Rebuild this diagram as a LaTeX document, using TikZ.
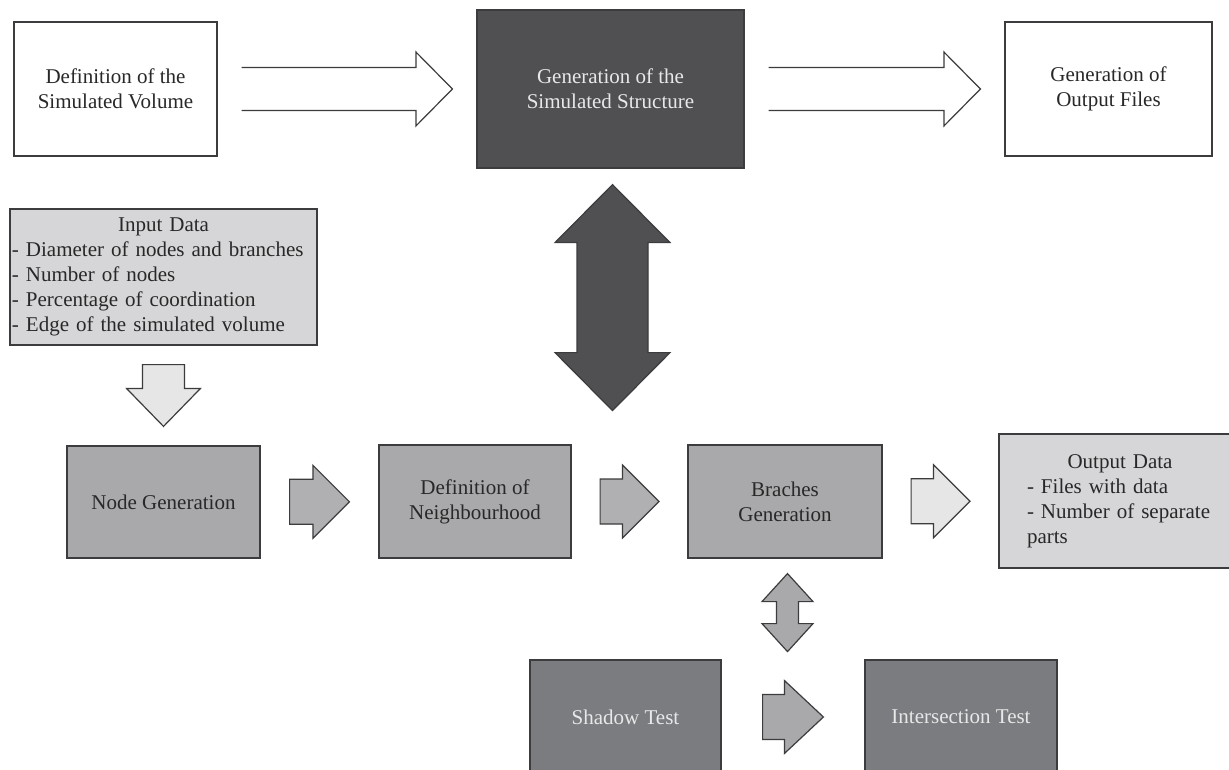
\documentclass[tikz,border=0pt]{standalone}
\usepackage{fontspec}
\setmainfont{Liberation Serif}
\usetikzlibrary{calc}
\definecolor{edgecol}{RGB}{60,60,62}
\definecolor{darkfill}{RGB}{80,80,82}
\definecolor{lightfill}{RGB}{214,214,216}
\definecolor{midfill}{RGB}{169,169,171}
\definecolor{testfill}{RGB}{123,124,128}
\definecolor{arrmid}{RGB}{176,176,178}
\definecolor{arrlight}{RGB}{230,230,231}
\definecolor{darktext}{RGB}{40,40,40}
\definecolor{palettext}{RGB}{232,232,232}

% right-pointing block arrow between two nodes
\newcommand\blockR[7]{%
  \draw[#1] let \p1=(#2.east), \p2=(#3.west), \p3=($(#2.east)!0.5!(#3.west)$) in
    ({\x1+#4pt},{\y3+#5pt}) -- ({\x2-#4pt-#7pt},{\y3+#5pt}) -- ({\x2-#4pt-#7pt},{\y3+#6pt})
    -- ({\x2-#4pt},\y3) -- ({\x2-#4pt-#7pt},{\y3-#6pt}) -- ({\x2-#4pt-#7pt},{\y3-#5pt})
    -- ({\x1+#4pt},{\y3-#5pt}) -- cycle;}
% right-pointing hollow arrow (open tail)
\newcommand\hollowR[7]{%
  \draw[#1] let \p1=(#2.east), \p2=(#3.west), \p3=($(#2.east)!0.5!(#3.west)$) in
    ({\x1+#4pt},{\y3+#5pt}) -- ({\x2-#4pt-#7pt},{\y3+#5pt}) -- ({\x2-#4pt-#7pt},{\y3+#6pt})
    -- ({\x2-#4pt},\y3) -- ({\x2-#4pt-#7pt},{\y3-#6pt}) -- ({\x2-#4pt-#7pt},{\y3-#5pt})
    -- ({\x1+#4pt},{\y3-#5pt});}
% downward block arrow between two nodes
\newcommand\blockD[7]{%
  \draw[#1] let \p1=(#2.south), \p2=(#3.north) in
    ({\x1-#5pt},{\y1-#4pt}) -- ({\x1+#5pt},{\y1-#4pt}) -- ({\x1+#5pt},{\y2+#4pt+#7pt})
    -- ({\x1+#6pt},{\y2+#4pt+#7pt}) -- (\x1,{\y2+#4pt}) -- ({\x1-#6pt},{\y2+#4pt+#7pt})
    -- ({\x1-#5pt},{\y2+#4pt+#7pt}) -- cycle;}
% vertical double-headed block arrow between two tip coordinates
\newcommand\blockUD[6]{%
  \draw[#1] let \p1=(#2), \p2=(#3) in
    (\x1,\y1) -- ({\x1+#5pt},{\y1-#6pt}) -- ({\x1+#4pt},{\y1-#6pt}) -- ({\x1+#4pt},{\y2+#6pt})
    -- ({\x1+#5pt},{\y2+#6pt}) -- (\x1,\y2) -- ({\x1-#5pt},{\y2+#6pt}) -- ({\x1-#4pt},{\y2+#6pt})
    -- ({\x1-#4pt},{\y1-#6pt}) -- ({\x1-#5pt},{\y1-#6pt}) -- cycle;}

\begin{document}
\begin{tikzpicture}[x=1pt,y=-1pt,
  box/.style={draw=edgecol, line width=1.2pt, inner sep=0pt, align=center,
    font=\fontsize{21}{25}\selectfont, text=darktext},
  arr/.style={draw=edgecol, line width=1.2pt, line join=miter},
]
\useasboundingbox (0,0) rectangle (1229,770);
\clip (0,0) rectangle (1229,770);
\fill[white] (0,0) rectangle (1229,770);

% top row
\node[box, fill=white, minimum width=203pt, minimum height=134pt] (vol) at (115.5,89) {Definition of the\\Simulated Volume};
\node[box, fill=darkfill, text=palettext, minimum width=267pt, minimum height=158pt] (gen) at (610.5,89) {Generation of the\\Simulated Structure};
\node[box, fill=white, minimum width=207pt, minimum height=134pt] (out) at (1108.5,89) {Generation of\\Output Files};

% input data
\node[box, fill=lightfill, minimum width=307pt, minimum height=136pt, inner xsep=2pt, text width=303pt, align=left] (inp) at (163.5,277)
  {\makebox[303pt]{Input Data}\\- Diameter of nodes and branches\\- Number of nodes\\- Percentage of coordination\\- Edge of the simulated volume};

% middle row
\node[box, fill=midfill, minimum width=193pt, minimum height=112pt] (ng) at (163.5,502) {Node Generation};
\node[box, fill=midfill, minimum width=192pt, minimum height=113pt] (nb) at (475,501.5) {Definition of\\Neighbourhood};
\node[box, fill=midfill, minimum width=194pt, minimum height=113pt] (br) at (785,501.5) {Braches\\Generation};
\node[box, fill=lightfill, minimum width=242pt, minimum height=134pt, inner xsep=28pt, text width=186pt, align=left] (od) at (1120,501)
  {\makebox[186pt]{Output Data}\\- Files with data\\- Number of separate\\parts};

% bottom row
\node[box, fill=testfill, text=palettext, minimum width=191pt, minimum height=114pt] (sh) at (625.5,717) {Shadow Test};
\node[box, fill=testfill, text=palettext, minimum width=192pt, minimum height=114pt] (it) at (961,717) {Intersection Test};

% connectors
\hollowR{arr, fill=none}{vol}{gen}{24}{21.5}{37}{36.5}
\hollowR{arr, fill=none}{gen}{out}{24}{21.5}{37}{36.5}

\coordinate (gt) at ($(gen.south)+(2,16)$);
\coordinate (gb) at ($(gen.south)+(2,242)$);
\blockUD{arr, fill=darkfill}{gt}{gb}{35.5}{57.5}{58}

\blockD{arr, fill=arrlight}{inp}{ng}{19}{21}{37}{38}

\blockR{arr, fill=arrmid}{ng}{nb}{29}{22.5}{36.5}{36.5}
\blockR{arr, fill=arrmid}{nb}{br}{28.5}{22.5}{36.5}{36.5}
\blockR{arr, fill=arrlight}{br}{od}{28.5}{22.5}{36.5}{36.5}

\coordinate (bt) at ($(br.south)+(2.5,15)$);
\coordinate (bb) at ($(br.south)+(2.5,93)$);
\blockUD{arr, fill=midfill}{bt}{bb}{11}{25.5}{28}

\blockR{arr, fill=midfill}{sh}{it}{41}{22.5}{36.5}{39}
\end{tikzpicture}
\end{document}
